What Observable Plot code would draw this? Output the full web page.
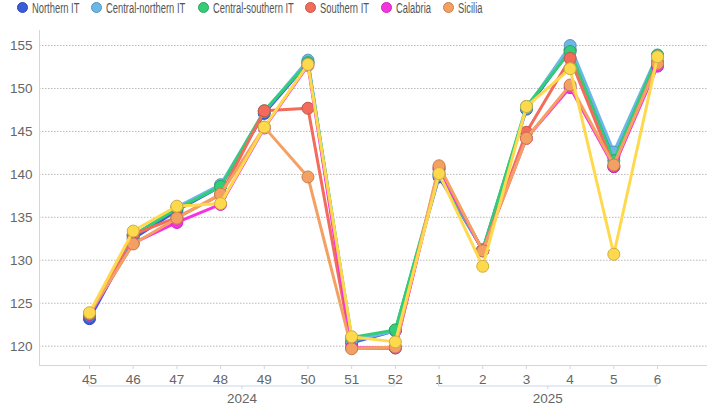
<!DOCTYPE html>
<html>
<head>
<meta charset="utf-8">
<script src="https://cdn.jsdelivr.net/npm/d3@7"></script>
<script src="https://cdn.jsdelivr.net/npm/@observablehq/plot@0.6"></script>
<style>
  html, body { margin: 0; padding: 0; background: #fff; width: 719px; height: 414px; overflow: hidden; }
  #legend { position: relative; height: 16px; font-family: "Liberation Sans", Arial, sans-serif; font-size: 14px; line-height: 16px; color: #555; white-space: nowrap; display: flex; align-items: center; padding-left: 17px; }
  .item { display: inline-flex; align-items: center; margin-right: 12px; }
  .sw { width: 11px; height: 11px; border-radius: 50%; box-sizing: border-box; margin-right: 4px; position: relative; top: -1px; }
  .lbwrap { display: inline-block; overflow: visible; }
  .lb { display: inline-block; line-height: 16px; transform: scaleX(0.67); transform-origin: 0 50%; }
  svg { display: block; }
</style>
</head>
<body>
<div id="legend"></div>
<div id="chart"></div>
<script>
// ---- data ----
const weeks = ["45","46","47","48","49","50","51","52","1","2","3","4","5","6"];
const groupNames = ["2024","2025"];
const groupFirst = ["45","1"];
const groupLast  = ["52","6"];
const yTicks = [120,125,130,135,140,145,150,155];

const seriesNames = ["Northern IT","Central-northern IT","Central-southern IT","Southern IT","Calabria","Sicilia","Sardegna"];
const inLegend = [true,true,true,true,true,true,false];
const seriesColors = ["#3b5bdb","#6bb8e8","#33cc77","#f26b5b","#f533e0","#f4a062","#ffd94d"];

const northern        = [123.2,132.5,135.8,138.6,147.1,153.0,120.4,121.8,139.7,131.2,147.6,154.5,142.1,153.8];
const centralNorthern = [123.6,132.8,136.2,138.8,147.3,153.3,120.6,121.8,139.9,131.2,147.7,155.0,142.6,153.9];
const centralSouthern = [123.7,132.9,136.0,138.6,147.4,153.0,121.0,121.9,140.1,131.2,147.9,154.3,141.6,153.8];
const southern        = [123.7,133.0,135.0,137.6,147.4,147.7,119.8,119.8,140.8,131.1,144.9,153.5,140.9,153.1];
const calabria        = [123.7,132.0,134.4,136.5,145.4,152.7,119.8,119.8,140.6,131.1,144.2,150.1,140.9,152.6];
const sicilia         = [123.8,131.9,134.9,137.7,145.5,139.7,119.7,119.9,141.0,131.1,144.2,150.4,141.1,152.9];
const sardegna        = [123.9,133.4,136.3,136.6,145.5,152.8,121.1,120.5,140.1,129.3,147.9,152.3,130.7,153.7];
const seriesValues = [northern, centralNorthern, centralSouthern, southern, calabria, sicilia, sardegna];

// ---- legend ----
const legend = d3.select("#legend");
seriesNames.forEach((n, i) => {
  if (!inLegend[i]) return;
  const it = legend.append("span").attr("class", "item");
  it.append("span").attr("class", "sw")
    .style("background", seriesColors[i])
    .style("border", "1px solid " + d3.color(seriesColors[i]).darker(0.6));
  const w = it.append("span").attr("class", "lbwrap");
  const lb = w.append("span").attr("class", "lb").text(n);
  w.style("width", lb.node().getBoundingClientRect().width + "px");
});

// ---- chart ----
const marks = [
  Plot.gridY({ticks: yTicks, stroke: "#b8b8b8", strokeOpacity: 1, strokeDasharray: "1.5,1.5"}),
  Plot.axisY({ticks: yTicks, tickSize: 0, tickPadding: 7, fontSize: 13.5, fill: "#666", label: null}),
  Plot.axisX({tickSize: 4, tickPadding: 5, fontSize: 13.5, fill: "#666", stroke: "#ccd6eb", strokeOpacity: 1, label: null})
];
seriesNames.forEach((name, i) => {
  const rows = weeks.map((w, j) => ({week: w, value: seriesValues[i][j], series: name}));
  marks.push(Plot.line(rows, {x: "week", y: "value", stroke: seriesColors[i], strokeWidth: 3, strokeLinejoin: "round"}));
  marks.push(Plot.dot(rows, {x: "week", y: "value", r: 6, fill: seriesColors[i], stroke: d3.color(seriesColors[i]).darker(0.6).formatHex(), strokeWidth: 1}));
});

const plot = Plot.plot({
  width: 719, height: 398,
  marginLeft: 39, marginRight: 12, marginTop: 14, marginBottom: 49,
  style: {fontFamily: "'Liberation Sans', Arial, sans-serif", fontSize: "13.5px", color: "#666", background: "white"},
  x: {type: "point", domain: weeks, padding: 1.144, round: false, label: null},
  y: {domain: [117.75, 156.75], label: null},
  marks
});
document.getElementById("chart").appendChild(plot);

// ---- axis lines and grouped category brackets ----
const xs = plot.scale("x"), ys = plot.scale("y");
const svg = d3.select(plot);
const [x0, x1] = xs.range;
const [yb, yt] = ys.range;
const g = svg.append("g").attr("stroke", "#ccd6eb").attr("fill", "none");
g.append("line").attr("x1", x0).attr("x2", x1).attr("y1", yb + 0.5).attr("y2", yb + 0.5);
g.append("line").attr("x1", x0 + 0.5).attr("x2", x0 + 0.5).attr("y1", yt).attr("y2", yb);
const by = yb + 21;
groupNames.forEach((name, i) => {
  const a = xs.apply(groupFirst[i]), b = xs.apply(groupLast[i]);
  const m = (a + b) / 2;
  g.append("path").attr("d", `M${a},${by - 4}V${by}H${b}V${by - 4}`);
  g.append("line").attr("x1", m).attr("x2", m).attr("y1", by).attr("y2", by + 3);
  svg.append("text").attr("x", m).attr("y", by + 13).attr("text-anchor", "middle")
    .attr("dominant-baseline", "middle").attr("fill", "#666")
    .style("font-size", "13.5px").text(name);
});
</script>
</body>
</html>
